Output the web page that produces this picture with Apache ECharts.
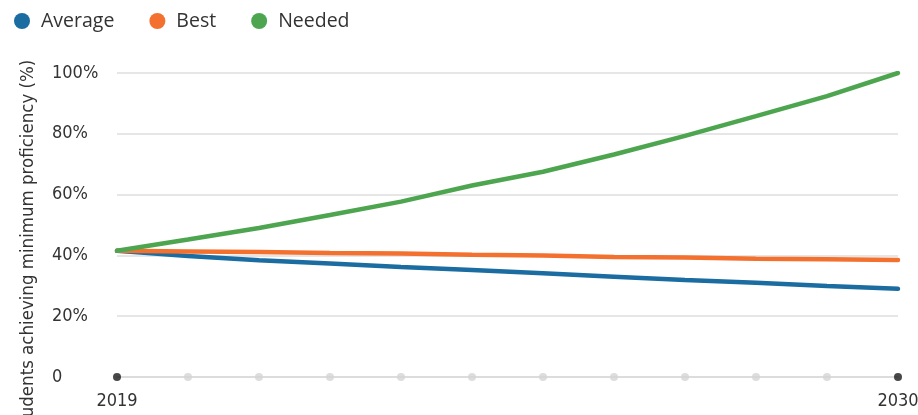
<!DOCTYPE html>
<html>
<head>
<meta charset="utf-8">
<script src="https://cdn.jsdelivr.net/npm/echarts@6/dist/echarts.min.js"></script>
<style>
  html, body { margin: 0; padding: 0; background: #fff; }
  #chart { width: 918px; height: 415px; }
</style>
</head>
<body>
<div id="chart"></div>
<script>
// years on the x axis
const years = ['2019', '2020', '2021', '2022', '2023', '2024', '2025', '2026', '2027', '2028', '2029', '2030']
// share of students achieving minimum proficiency (%)
const averageData = [41.5, 39.8, 38.4, 37.3, 36.2, 35.2, 34.1, 33.0, 31.9, 31.0, 29.9, 29.0]
const bestData = [41.5, 41.3, 41.1, 40.8, 40.6, 40.2, 40.0, 39.5, 39.3, 38.9, 38.7, 38.5]
const neededData = [41.5, 45.2, 49.0, 53.3, 57.7, 63.0, 67.5, 73.2, 79.3, 85.8, 92.4, 100]
const yTicks = [0, 20, 40, 60, 80, 100]
const axisDots = years.map(() => 0)

const colors = {
  average: '#1a6ca1',
  best: '#f3702f',
  needed: '#4da64f'
}

// condensed face for the axis texts
const labelFont = '"DejaVu Sans Condensed", "DejaVu Sans", sans-serif'
const labelSize = 18

const chart = echarts.init(document.getElementById('chart'))

chart.setOption({
  animation: false,
  legend: {
    data: ['Average', 'Best', 'Needed'],
    left: 9,
    top: 6,
    icon: 'circle',
    itemWidth: 28,
    itemHeight: 16,
    itemGap: 35,
    textStyle: {
      fontFamily: '"Open Sans", "Noto Sans", sans-serif',
      fontSize: 19.5,
      color: '#333'
    }
  },
  grid: {
    left: 117,
    right: 20,
    top: 73,
    bottom: 38,
    containLabel: false,
    outerBoundsMode: 'none'
  },
  xAxis: {
    type: 'category',
    data: years,
    boundaryGap: false,
    axisLine: { lineStyle: { color: '#d9d9d9', width: 1.5 } },
    axisTick: { show: false },
    axisLabel: {
      interval: (i) => i === 0 || i === years.length - 1,
      margin: 15,
      fontFamily: labelFont,
      fontSize: labelSize,
      color: '#333'
    },
    splitLine: { show: false }
  },
  yAxis: {
    type: 'value',
    min: yTicks[0],
    max: yTicks[yTicks.length - 1],
    interval: 20,
    name: 'Students achieving minimum proficiency (%)',
    nameLocation: 'middle',
    nameGap: 79,
    nameTextStyle: {
      fontFamily: labelFont,
      fontSize: 18.5,
      color: '#333',
      padding: [0, 44, 0, 0]
    },
    axisLine: { show: false },
    axisTick: { show: false },
    axisLabel: {
      align: 'left',
      margin: 65,
      fontFamily: labelFont,
      fontSize: labelSize,
      color: '#333',
      formatter: (v) => (v === 0 ? '0' : v + '%')
    },
    splitLine: {
      show: true,
      lineStyle: { color: '#dedede', width: 1.5 }
    }
  },
  series: [
    {
      name: 'Average',
      type: 'line',
      data: averageData,
      showSymbol: false,
      color: colors.average,
      lineStyle: { width: 4.5, cap: 'round' },
      z: 3
    },
    {
      name: 'Best',
      type: 'line',
      data: bestData,
      showSymbol: false,
      color: colors.best,
      lineStyle: { width: 4.5, cap: 'round' },
      z: 4
    },
    {
      name: 'Needed',
      type: 'line',
      data: neededData,
      showSymbol: false,
      color: colors.needed,
      lineStyle: { width: 4.5, cap: 'round' },
      z: 5
    },
    {
      // dots along the x axis, dark at both ends
      name: 'axisDots',
      type: 'scatter',
      data: axisDots,
      symbolSize: 8,
      clip: false,
      itemStyle: {
        color: (p) => (p.dataIndex === 0 || p.dataIndex === years.length - 1 ? '#1a1a1a' : '#d4d4d4')
      },
      silent: true,
      z: 6
    }
  ]
})
</script>
</body>
</html>
